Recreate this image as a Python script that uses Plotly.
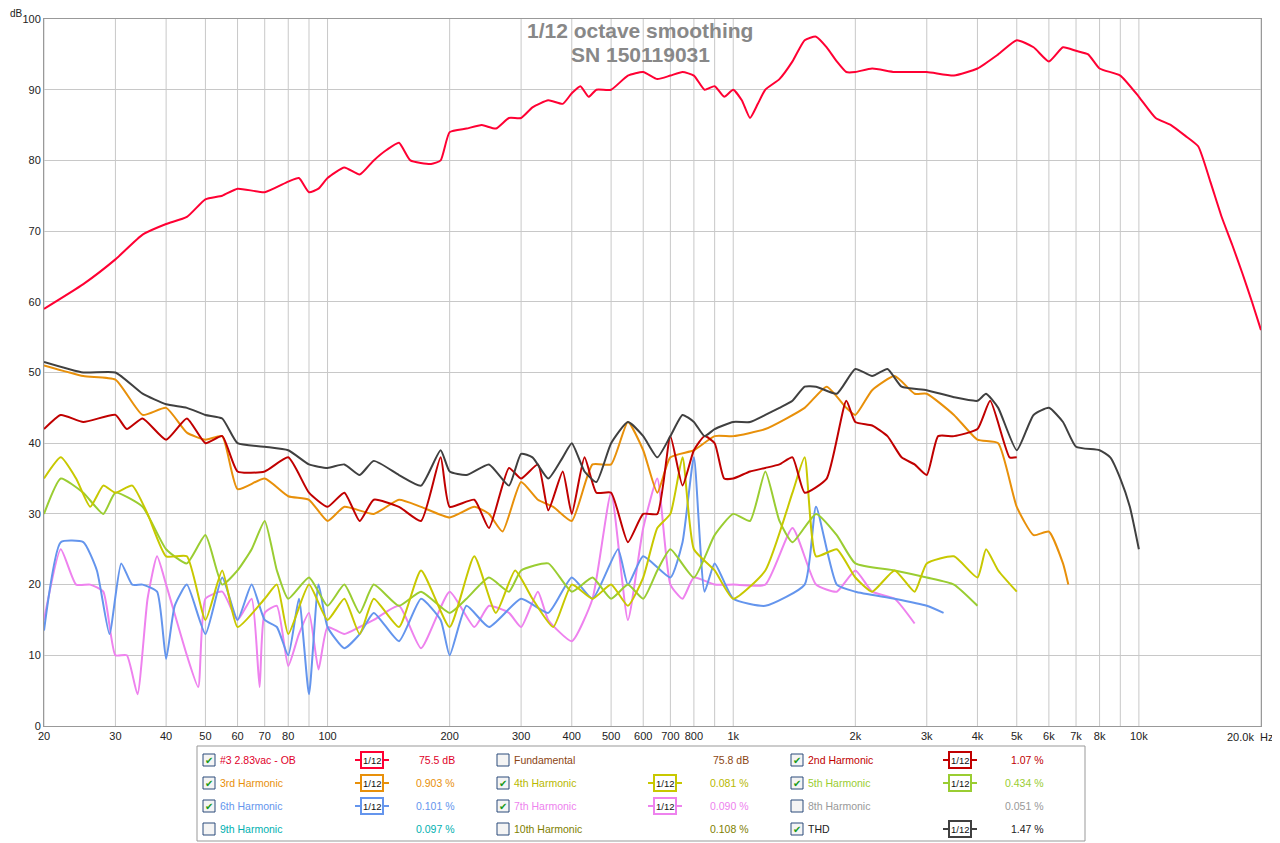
import plotly.graph_objects as go
import math

fund_f = [20,25,30,35,40,45,50,55,60,70,80,85,90,95,100,110,120,130,140,150,160,180,190,200,220,240,260,280,300,320,350,380,400,420,440,460,500,550,600,650,700,750,800,850,900,950,1000,1050,1100,1150,1200,1300,1400,1500,1600,1700,1800,1900,2000,2200,2500,3000,3500,4000,4500,5000,5500,6000,6500,7000,7500,8000,9000,10000,11000,12000,13000,14000,15000,16000,17000,18000,19000,20000]
fund_v = [59,62.5,66,69.5,71,72,74.5,75,76,75.5,77,77.5,75.5,76,77.5,79,78,80,81.5,82.5,80,79.5,80,84,84.5,85,84.5,86,86,87.5,88.5,88,89.5,90.5,89,90,90,92,92.5,91.5,92,92.5,92,90,90.5,89,90,88.5,86,88,90,91.5,94,97,97.5,96,94,92.5,92.5,93,92.5,92.5,92,93,95,97,96,94,96,95.5,95,93,92,89,86,85,83.5,82,77,72,68,64,60,56]

thd_f = [20,25,30,35,40,45,50,55,60,70,80,90,100,110,120,130,150,170,190,200,220,250,280,300,320,350,380,400,430,460,500,550,600,650,700,750,800,850,900,1000,1100,1200,1300,1400,1500,1600,1800,2000,2200,2400,2600,3000,3500,4000,4200,4500,5000,5500,6000,6500,7000,8000,8500,9000,9500,10000]
thd_v = [51.5,50,50,47,45.5,45,44,43.5,40,39.5,39,37,36.5,37,35.5,37.5,35.5,34,39,36,35.5,37,34,38.5,38,35,38,40,36,34.5,40,43,41,38,41,44,43,41,42,43,43,44,45,46,48,48,47,50.5,49.5,50.5,48,47.5,46.5,46,47,45,39,44,45,43,39.5,39,38,35,31,25]

h2_f = [20,22,25,30,32,35,40,45,50,55,60,70,80,90,100,110,120,130,150,170,190,200,230,250,280,300,330,350,380,400,430,460,500,550,600,650,700,750,800,850,900,950,1000,1100,1200,1300,1400,1500,1700,1900,2000,2200,2400,2600,2800,3000,3200,3500,4000,4300,4800,5000]
h2_v = [42,44,43,44,42,43.5,40.5,43.5,40,41,36,36,38,33,31,33,29,32,31,29,38,31,32,28,36.5,35,37,30.5,36,30,38,33,33,26,30,30,41,34,39,41,40,35,35,36,36.5,37,38,33,35,46,43,42.5,41,38,37,35.5,41,41,42,46,38,38]

h3_f = [20,25,30,35,40,45,50,55,60,70,80,90,100,110,130,150,170,200,230,250,270,300,330,360,400,450,500,550,600,650,700,800,900,1000,1200,1500,1700,1900,2000,2200,2500,2800,3000,3500,4000,4500,5000,5500,6000,6500,6700]
h3_v = [51,49.5,49,44,45,41.5,40.5,41,33.5,35,32.5,32,29,31,30,32,31,29.5,31,30,27.5,34.5,32,31,29,37,37,43,39,33,38,39,41,41,42,45,48,45,44,47.5,49.5,47,47,44,40.5,40,31,27,27.5,23,20]

h4_f = [20,22,24,26,28,30,33,36,40,45,50,55,60,70,75,80,90,100,110,120,130,150,170,200,230,260,290,320,360,400,450,500,550,600,650,700,750,800,900,1000,1200,1400,1500,1600,1800,2000,2200,2500,2800,3000,3500,4000,4200,4500,5000]
h4_v = [35,38,35,31,34,33,34,30,24,24,15,22,14,18,20,13,20,15,18,13,18,14,22,14,24,16,22,18,14,20,18,20,17,21,28,30,38,25,22,18,22,33,38,24,25,21,19,22,19,23,24,21,25,22,19]

h5_f = [20,22,25,28,30,35,40,45,50,55,60,65,70,75,80,90,100,110,120,130,150,170,200,220,250,280,300,350,400,450,500,550,600,650,700,800,900,1000,1100,1200,1300,1400,1600,1800,2000,2500,3000,3500,4000]
h5_v = [30,35,33,30,33,31,25,23,27,20,22,25,29,22,18,21,17,20,16,20,17,19,16,18,21,19,22,23,19,21,18,20,18,22,25,21,27,30,29,36,29,26,30,27,23,22,21,20,17]

h6_f = [20,22,25,27,29,31,33,35,38,40,42,45,50,55,60,65,70,75,80,85,90,95,100,110,120,130,150,170,190,200,220,250,300,350,400,450,520,550,600,700,750,800,850,900,1000,1200,1500,1600,1800,2000,2500,3000,3300]
h6_v = [13.5,26,26,22,13,23,20,20,19,9.5,17,20,13,21,15,20,15,14,10,18,4.5,20,14,11,13,16,12,18,15,10,17,14,18,16,21,18,25,20,24,21,26,38,19,23,18,17,20,31,20,19,18,17,16]

h7_f = [20,22,24,26,28,30,32,34,36,38,40,45,48,50,55,60,65,68,70,75,80,85,90,95,100,110,120,130,150,170,200,230,250,280,300,330,350,400,450,500,550,600,650,700,750,800,900,1000,1200,1400,1600,1800,2000,2200,2500,2800]
h7_v = [15,25,20,20,19,10,10,4.5,18,24,20,10,5.5,18,19,15,18,5.5,16,17,8.5,13,16,8,14,13,14,15,17,11,19,14,17,16,14,19,15,12,18,33,15,28,35,20,18,21,20,20,20,28,20,19,22,19,18,14.5]

series = [
    (h7_f, h7_v, "#ee82ee"), (h6_f, h6_v, "#6495ed"), (h5_f, h5_v, "#9acd32"),
    (h4_f, h4_v, "#c8c800"), (h3_f, h3_v, "#e8900a"), (h2_f, h2_v, "#c00000"),
    (thd_f, thd_v, "#404040"), (fund_f, fund_v, "#ff0033"),
]

tick_vals = [20,30,40,50,60,70,80,100,200,300,400,500,600,700,800,1000,2000,3000,4000,5000,6000,7000,8000,10000]
tick_text = ["20","30","40","50","60","70","80","100","200","300","400","500","600","700","800","1k","2k","3k","4k","5k","6k","7k","8k","10k"]

OFF = 8  # page body margin
W, H = 1280 - OFF, 843 - OFF
L, R, T, B = 44 - OFF, 1261 - OFF, 19 - OFF, 726 - OFF  # plot area in figure pixels

fig = go.Figure()
for f, v, c in series:
    fig.add_trace(go.Scatter(x=f, y=v, mode="lines", line=dict(color=c, width=2, shape="spline", smoothing=0.5),
                             showlegend=False, hoverinfo="skip", xaxis="x", yaxis="y"))
fig.add_trace(go.Scatter(x=[0], y=[0], mode="markers", marker=dict(opacity=0), showlegend=False, hoverinfo="skip", xaxis="x2", yaxis="y2"))

grid = []
for d in [10, 100, 1000, 10000]:
    for m in range(1, 10):
        g = m * d
        if 20 <= g <= 20000:
            grid.append(g)
shapes = []
for g in grid:
    shapes.append(dict(type="line", xref="x", yref="y domain", x0=g, x1=g, y0=0, y1=1, line=dict(color="#c8c8c8", width=1), layer="below"))

fig.update_layout(
    width=W, height=H, margin=dict(l=0, r=0, t=0, b=0),
    paper_bgcolor="white", plot_bgcolor="rgba(0,0,0,0)",
    font=dict(family="Liberation Sans, Arial", size=11, color="#222"),
    xaxis=dict(type="log", range=[math.log10(20), math.log10(20000)], tickvals=tick_vals, ticktext=tick_text,
               domain=[L / W, R / W], anchor="y", automargin=False,
               showgrid=False, showline=True, linecolor="#999", mirror=True, ticks="", zeroline=False),
    yaxis=dict(range=[0, 100], dtick=10, showgrid=True, gridcolor="#c8c8c8", showline=True, linecolor="#999",
               domain=[(H - B) / H, (H - T) / H], anchor="x", automargin=False,
               mirror=True, ticks="", zeroline=False),
    xaxis2=dict(range=[0, W], domain=[0, 1], visible=False, anchor="y2", fixedrange=True),
    yaxis2=dict(range=[H, 0], domain=[0, 1], visible=False, anchor="x2", fixedrange=True),
)

def ann(x, y, text, size=10.5, color="#222", xanchor="center"):
    fig.add_annotation(xref="x2", yref="y2", x=x - OFF, y=y - OFF, text=text, showarrow=False, xanchor=xanchor,
                       font=dict(size=size, color=color))

def rect(x0, x1, y0, y1, **kw):
    shapes.append(dict(type="rect", xref="x2", yref="y2", x0=x0-OFF, x1=x1-OFF, y0=y0-OFF, y1=y1-OFF, **kw))

ann(25, 13, "dB", 10, xanchor="right")
ann(1256, 737, "20.0k", 11, xanchor="right")
ann(1258, 737, "Hz", 11, xanchor="left")
ann(640, 30, "<b>1/12 octave smoothing</b>", 21, "#888888")
ann(640, 54, "<b>SN 150119031</b>", 21, "#888888")

rect(197, 1085, 746, 841, line=dict(color="#999", width=1), fillcolor="white")
legend = [
    [("#3 2.83vac - OB", "#e0002a", True, "#ff0033", "75.5 dB"), ("Fundamental", "#8b4513", False, None, "75.8 dB"), ("2nd Harmonic", "#c00000", True, "#c00000", "1.07 %")],
    [("3rd Harmonic", "#e8900a", True, "#e8900a", "0.903 %"), ("4th Harmonic", "#b8b800", True, "#c8c800", "0.081 %"), ("5th Harmonic", "#9acd32", True, "#9acd32", "0.434 %")],
    [("6th Harmonic", "#6495ed", True, "#6495ed", "0.101 %"), ("7th Harmonic", "#ee82ee", True, "#ee82ee", "0.090 %"), ("8th Harmonic", "#999999", False, None, "0.051 %")],
    [("9th Harmonic", "#00b0b0", False, None, "0.097 %"), ("10th Harmonic", "#808000", False, None, "0.108 %"), ("THD", "#222222", True, "#404040", "1.47 %")],
]
cols = [(209, 372, 457), (503, 665, 751), (797, 960, 1046)]
rows = [760, 783, 806, 829]
for r, row in enumerate(legend):
    yy = rows[r]
    for c, (lab, lc, chk, ic, val) in enumerate(row):
        cx, ix, vx = cols[c]
        rect(cx-6, cx+6, yy-6, yy+6, line=dict(color="#2a4a7a", width=1), fillcolor="#f4f4f4")
        if chk:
            ann(cx, yy, "✔", 10, "#1a9a1a")
        ann(cx + 9, yy, lab, 10.5, lc, "left")
        ann(vx, yy, val, 10.5, lc, "right")
        if ic:
            shapes.append(dict(type="line", xref="x2", yref="y2", x0=ix-17-OFF, x1=ix+17-OFF, y0=yy-OFF, y1=yy-OFF, line=dict(color=ic, width=2)))
            rect(ix-11, ix+11, yy-8, yy+8, line=dict(color=ic, width=2), fillcolor="white")
            ann(ix, yy, "1/12", 9.5, "#111")
fig.update_layout(shapes=shapes)
fig.write_html("out.html")
